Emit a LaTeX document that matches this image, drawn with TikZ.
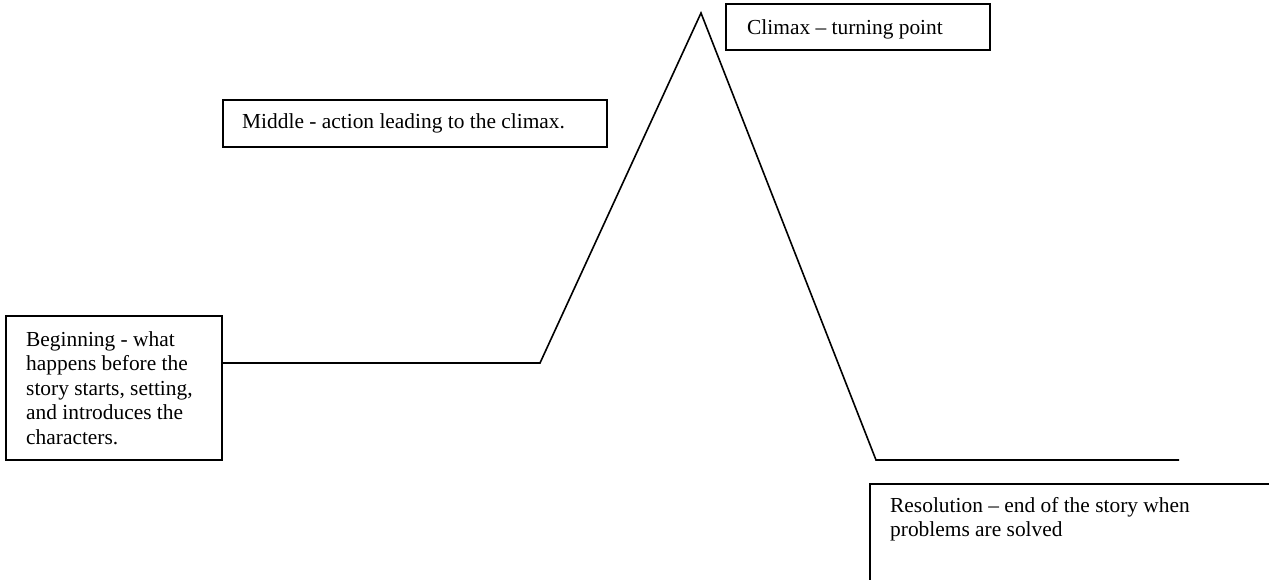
\documentclass[tikz,border=0pt]{standalone}
\usepackage{fontspec}
\setmainfont{Liberation Serif}
\begin{document}
\begin{tikzpicture}[x=1pt,y=-1pt,
  box/.style={draw=black,line width=1.8pt,rectangle,inner sep=0pt,fill=white},
  txt/.style={inner sep=0pt,anchor=base west,align=left,font=\fontsize{21.4}{24.5}\selectfont},
  plotline/.style={draw=black,line width=1.6pt,line join=miter}]
\fill[white] (0,0) rectangle (1269,579);
\useasboundingbox (0,0) rectangle (1269,579);
% boxes
\node[box,minimum width=216pt,minimum height=144pt] (beg) at (114,388) {};
\node[box,minimum width=384pt,minimum height=47pt] (mid) at (415,123.5) {};
\node[box,minimum width=264pt,minimum height=46pt] (clx) at (858,27) {};
\node[box,minimum width=420pt,minimum height=120pt] (res) at (1080,544) {};
% texts (anchor = baseline of the last line)
\node[txt] (begt) at (26,444) {Beginning - what\\happens before the\\story starts, setting,\\and introduces the\\characters.};
\node[txt] (midt) at (242,128) {Middle - action leading to the climax.};
\node[txt] (clxt) at (747,34) {Climax – turning point};
\node[txt] (rest) at (890,536.5) {Resolution – end of the story when\\problems are solved};
% plot line
\coordinate (a) at (540,363);
\coordinate (p) at (701,13);
\coordinate (b) at (876,460);
\coordinate (e) at (1179,460);
\draw[plotline] (beg.east |- a) -- (a) -- (p) -- (b) -- (e);
\end{tikzpicture}
\end{document}
